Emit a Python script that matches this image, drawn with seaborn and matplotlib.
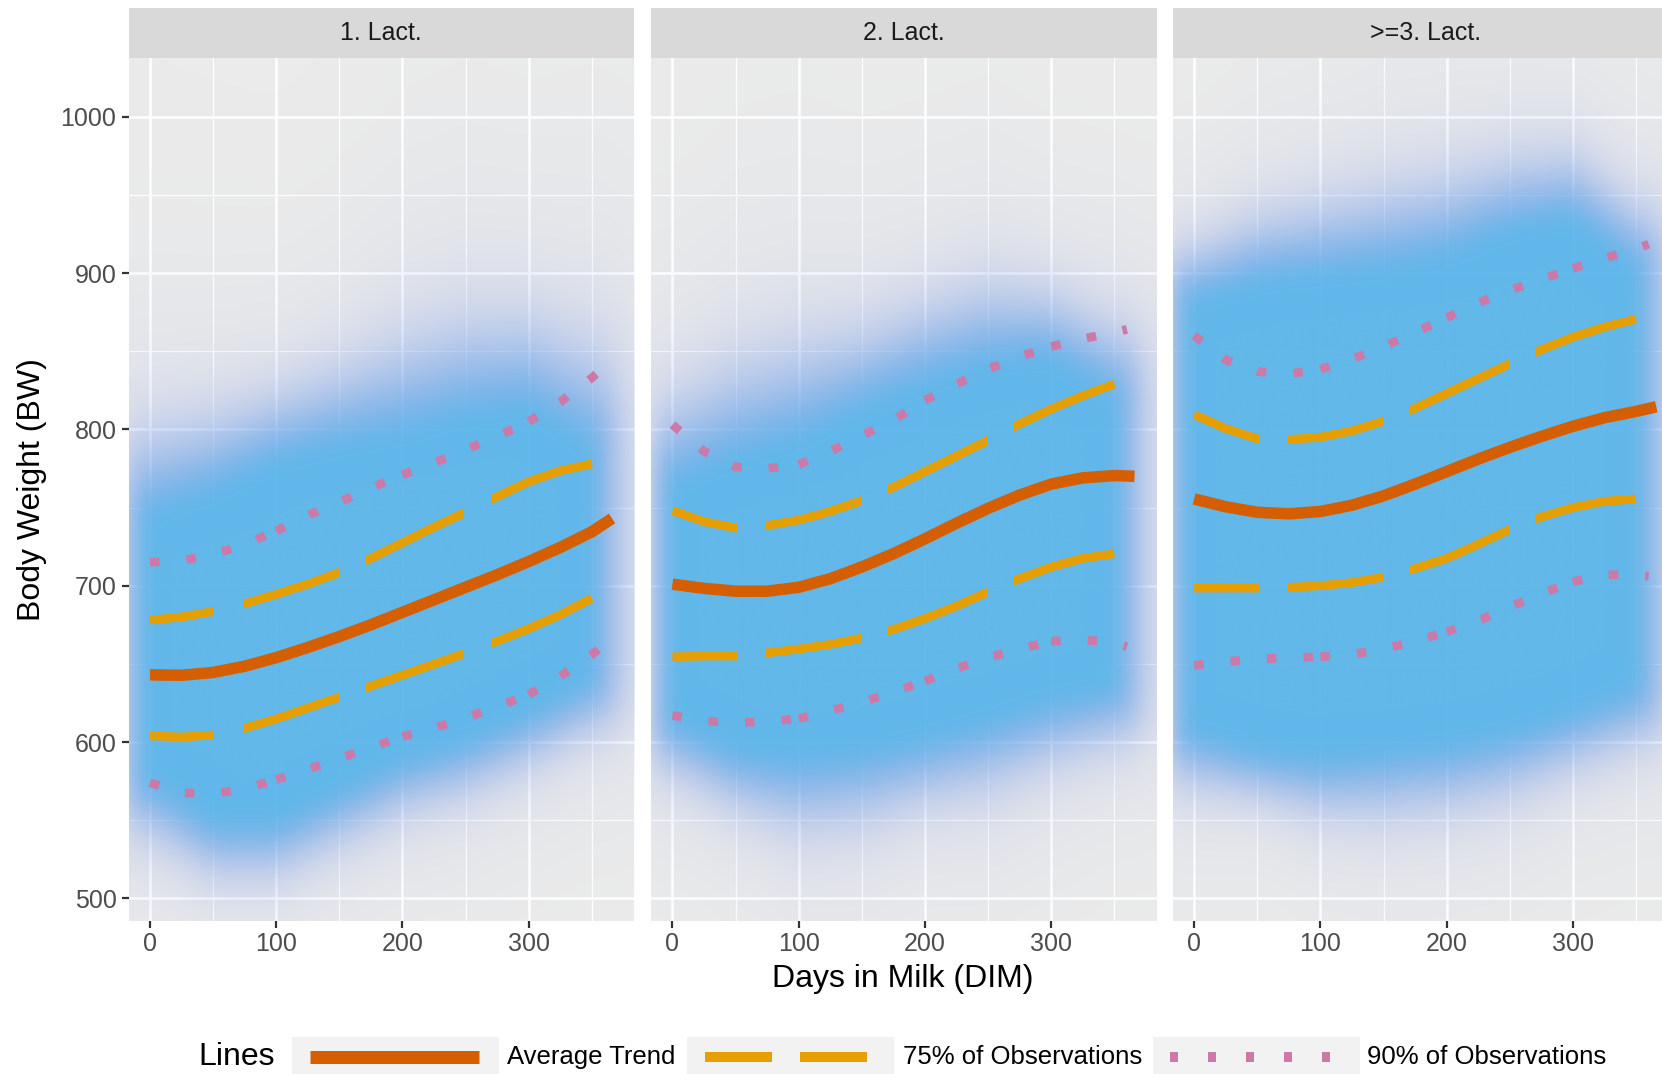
import numpy as np
import pandas as pd
import matplotlib
matplotlib.use("Agg")
import matplotlib.pyplot as plt
import seaborn as sns
from matplotlib.patches import Rectangle
from matplotlib.path import Path
from matplotlib.colors import to_rgb

# ---------------- data ----------------
PANELS = ["1. Lact.", "2. Lact.", ">=3. Lact."]

DIM_AVG = [0, 25, 50, 75, 100, 125, 150, 175, 200, 225, 250, 275, 300, 325, 350, 366]
DIM_Q75 = [0, 25, 50, 75, 100, 125, 150, 175, 200, 225, 250, 275, 300, 325, 350]
DIM_Q90 = [0, 25, 50, 75, 100, 125, 150, 175, 200, 225, 250, 275, 300, 325, 350, 360]

AVG_1 = [643, 642.7, 644.5, 648.5, 654, 660.5, 667.5, 675, 683, 691, 699, 707, 715.5, 724.5, 734.5, 743]
AVG_2 = [701, 698.3, 696.5, 696.5, 699, 704.5, 712, 720.5, 730, 740, 749.5, 758, 765, 769, 770.5, 770]
AVG_3 = [755.5, 750.5, 747, 746, 747.5, 751.5, 757.5, 765, 773, 781, 788.5, 795.5, 802, 807.5, 811.5, 814.5]

Q75_HI_1 = [678, 680, 683.5, 688.5, 694.5, 701, 708.5, 717.5, 727.5, 737.5, 747, 757, 766.5, 773.5, 778]
Q75_LO_1 = [604, 603.2, 604.5, 608.8, 614.8, 621.8, 628.8, 635.8, 642.8, 649.8, 657, 664.5, 672.5, 681.5, 692]
Q75_HI_2 = [748, 741, 737, 738.5, 742, 747.5, 754.5, 763, 773, 783, 793, 803.5, 813, 821.5, 829]
Q75_LO_2 = [654.5, 655, 655, 657, 659.5, 662.5, 666.5, 672, 679, 687, 696, 704.5, 712, 717.5, 720.5]
Q75_HI_3 = [809.5, 800.5, 794, 793.5, 795, 799, 805.3, 813.5, 823, 832.5, 842, 851, 859, 865.5, 870.5]
Q75_LO_3 = [698.5, 698.5, 698.5, 699, 700, 702, 705.5, 711, 717.5, 726.5, 736, 744, 750, 754, 755.5]

Q90_HI_1 = [715, 716, 720, 726.5, 735, 745, 753.5, 762.5, 771, 778.5, 787, 795.5, 805, 817.5, 833, 840]
Q90_LO_1 = [574, 567.5, 567, 570, 576, 582.5, 589.5, 596.5, 603.5, 609, 615.5, 622.5, 630.5, 642, 656, 662]
Q90_HI_2 = [803, 786, 776, 775, 777.5, 786, 796, 806, 818.5, 829, 838.5, 846.5, 853, 858, 862, 864]
Q90_LO_2 = [617, 613.5, 612.5, 613, 615, 620, 625.5, 632, 639, 647, 654, 659.5, 664.5, 665.5, 663.5, 661]
Q90_HI_3 = [860, 844.5, 837, 835.5, 838.5, 845, 853, 862, 871.5, 881, 889, 896, 903, 909.5, 915.5, 918.5]
Q90_LO_3 = [649, 651.5, 653, 654, 654.5, 656, 659.5, 664.5, 670.5, 677.5, 686.5, 695, 702.5, 707, 707, 706]

CLOUD_X = [0, 50, 100, 150, 200, 250, 300, 350]
CORE_HI_1 = [745, 760, 780, 790, 797, 808, 814, 786]
HALO_HI_1 = [803, 812, 826, 842, 860, 873, 874, 856]
CORE_LO_1 = [575, 548, 548, 568, 588, 600, 618, 640]
HALO_LO_1 = [536, 512, 512, 532, 552, 564, 582, 604]
CORE_HI_2 = [765, 781, 793, 813, 830, 842, 846, 821]
HALO_HI_2 = [822, 845, 857, 866, 882, 895, 890, 869]
CORE_LO_2 = [613, 593, 589, 593, 601, 613, 626, 634]
HALO_LO_2 = [577, 555, 541, 545, 559, 566, 583, 596]
CORE_HI_3 = [883, 895, 899, 903, 911, 928, 936, 903]
HALO_HI_3 = [919, 938, 947, 956, 964, 975, 979, 946]
CORE_LO_3 = [605, 593, 589, 593, 597, 605, 618, 634]
HALO_LO_3 = [569, 562, 551, 550, 554, 563, 580, 596]
CLOUD_XEXT_1 = [-9, 350, -21, 378]   # core left, core right, halo left, halo right
CLOUD_XEXT_2 = [-6, 352, -18, 378]
CLOUD_XEXT_3 = [-10, 352, -21, 378]

X_TICKS = [0, 100, 200, 300]
Y_TICKS = [500, 600, 700, 800, 900, 1000]
LEGEND_LABELS = ["Average Trend", "75% of Observations", "90% of Observations"]

# ---------------- style ----------------
sns.set_theme(style="darkgrid")
plt.rcParams["font.family"] = ["Liberation Sans", "DejaVu Sans"]

C_AVG = "#D55E00"
C_Q75 = "#E69F00"
C_Q90 = "#CC79A7"
C_CLOUD = "#56B4E9"
C_EDGE = "#7B9AEA"
BG = "#EBEBEB"

# long-dash layout of the 75% lines (visible dash spans along the DIM axis)
DASH_SPANS = [(0, 51), (74, 150), (171, 249), (270, 351)]
DOT_RESTARTS = [100, 200, 300]

W, H = 1662, 1074
fig = plt.figure(figsize=(W / 100, H / 100), dpi=100)

PX = lambda v: v / 100 * 72  # pixels -> points

ax_top_px, ax_bot_px = 58.3, 920.7
ax_w_px = 505.5
lefts = [128.5, 651.0, 1172.7]
XLIM = (-17.0, 383.4)
YLIM = (485.7, 1037.4)

avg_data = [AVG_1, AVG_2, AVG_3]
q75_data = [(Q75_HI_1, Q75_LO_1), (Q75_HI_2, Q75_LO_2), (Q75_HI_3, Q75_LO_3)]
q90_data = [(Q90_HI_1, Q90_LO_1), (Q90_HI_2, Q90_LO_2), (Q90_HI_3, Q90_LO_3)]
clouds = [
    (CORE_HI_1, HALO_HI_1, CORE_LO_1, HALO_LO_1, CLOUD_XEXT_1),
    (CORE_HI_2, HALO_HI_2, CORE_LO_2, HALO_LO_2, CLOUD_XEXT_2),
    (CORE_HI_3, HALO_HI_3, CORE_LO_3, HALO_LO_3, CLOUD_XEXT_3),
]

LW_AVG = PX(11.5)
LW_Q = PX(8.7)


def gblur(a, s):
    r = int(3 * s)
    k = np.exp(-0.5 * (np.arange(-r, r + 1) / s) ** 2)
    k /= k.sum()
    p = np.pad(a, r, mode="edge")
    p = np.apply_along_axis(lambda v: np.convolve(v, k, mode="valid"), 0, p)
    p = np.apply_along_axis(lambda v: np.convolve(v, k, mode="valid"), 1, p)
    return p


def draw_cloud(ax, core_hi, halo_hi, core_lo, halo_lo, ext):
    xs = np.linspace(-20, 386, 300)
    ys = np.linspace(480, 1042, 420)
    X, Y = np.meshgrid(xs, ys)
    ch = np.interp(xs, CLOUD_X, core_hi)[None, :]
    hh = np.interp(xs, CLOUD_X, halo_hi)[None, :]
    cl = np.interp(xs, CLOUD_X, core_lo)[None, :]
    hl = np.interp(xs, CLOUD_X, halo_lo)[None, :]
    cL, cR, hL, hR = ext
    dv = np.maximum.reduce([(Y - ch) / (hh - ch), (cl - Y) / (cl - hl), np.zeros_like(Y)])
    dh = np.maximum.reduce([(cL - X) / (cL - hL), (X - cR) / (hR - cR), np.zeros_like(X)])
    d = np.sqrt(dv ** 2 + dh ** 2)
    alpha = 0.93 * (0.6 * np.exp(-1.4 * d ** 2) + 0.4 * np.exp(-0.9 * d))
    t = np.clip(d / 1.1, 0, 1) ** 0.6
    alpha = np.clip(gblur(alpha, 6), 0, 1)
    t = np.clip(gblur(t, 6), 0, 1)
    c0 = np.array(to_rgb(C_CLOUD))
    c1 = np.array(to_rgb(C_EDGE))
    rgb = c0[None, None, :] * (1 - t[..., None]) + c1[None, None, :] * t[..., None]
    img = np.dstack([rgb, alpha])
    ax.imshow(img, extent=(xs[0], xs[-1], ys[0], ys[-1]), origin="lower",
              aspect="auto", interpolation="bilinear", zorder=1)


def dash_clip_path():
    verts, codes = [], []
    for a, b in DASH_SPANS:
        verts += [(a, 0), (b, 0), (b, 2000), (a, 2000), (a, 0)]
        codes += [Path.MOVETO, Path.LINETO, Path.LINETO, Path.LINETO, Path.CLOSEPOLY]
    return Path(verts, codes)


def seg_plot(ax, xv, yv, splits, **kw):
    xv = np.asarray(xv); yv = np.asarray(yv)
    bounds = [xv[0]] + splits + [xv[-1]]
    for a, b in zip(bounds[:-1], bounds[1:]):
        m = (xv >= a) & (xv <= b)
        sns.lineplot(x=xv[m], y=yv[m], ax=ax, sort=False, estimator=None, legend=False, **kw)


clip = dash_clip_path()

for i, name in enumerate(PANELS):
    ax = fig.add_axes([lefts[i] / W, (H - ax_bot_px) / H, ax_w_px / W, (ax_bot_px - ax_top_px) / H])
    ax.set_facecolor(BG)
    for s in ax.spines.values():
        s.set_visible(False)
    ax.set_axisbelow(True)

    draw_cloud(ax, *clouds[i])

    # 90% lines (dotted)
    for yv in q90_data[i]:
        seg_plot(ax, DIM_Q90, yv, DOT_RESTARTS, color=C_Q90, linewidth=LW_Q,
                 linestyle=(0, (1.1, 3.1)), dash_capstyle="butt", zorder=3)
    # 75% lines (long dashed)
    for yv in q75_data[i]:
        sns.lineplot(x=DIM_Q75, y=yv, ax=ax, color=C_Q75, linewidth=LW_Q,
                     solid_capstyle="butt", solid_joinstyle="round",
                     sort=False, estimator=None, legend=False, zorder=4)
        ax.lines[-1].set_clip_path(clip, ax.transData)
    # average trend
    sns.lineplot(x=DIM_AVG, y=avg_data[i], ax=ax, color=C_AVG, linewidth=LW_AVG,
                 solid_capstyle="butt", solid_joinstyle="round",
                 sort=False, estimator=None, legend=False, zorder=5)

    ax.set_xlim(*XLIM)
    ax.set_ylim(*YLIM)
    ax.set_xticks(X_TICKS)
    ax.set_xticks([50, 150, 250, 350], minor=True)
    ax.set_yticks(Y_TICKS)
    ax.set_yticks([550, 650, 750, 850, 950], minor=True)
    ax.grid(which="major", color="white", linewidth=PX(2.6), zorder=0.5)
    ax.grid(which="minor", color="white", linewidth=PX(1.3), zorder=0.5)
    ax.tick_params(which="major", length=PX(7), width=PX(2.2), color="#333333",
                   labelsize=18, labelcolor="#4D4D4D", pad=PX(4), bottom=True, left=True)
    ax.tick_params(which="minor", length=0)
    ax.set_xlabel("")
    ax.set_ylabel("")
    if i > 0:
        ax.tick_params(axis="y", which="both", left=False, labelleft=False)
    else:
        ax.tick_params(axis="y", pad=PX(5))

    # facet strip
    strip_h = 50.0 / (ax_bot_px - ax_top_px)
    ax.add_patch(Rectangle((0, 1), 1, strip_h, transform=ax.transAxes, facecolor="#D9D9D9",
                           edgecolor="none", clip_on=False, zorder=2))
    ax.text(0.5, 1 + strip_h / 2, name, transform=ax.transAxes, ha="center", va="center",
            fontsize=18, color="#1A1A1A", clip_on=False)

# axis titles
fig.text(903 / W, 1 - 979 / H, "Days in Milk (DIM)", ha="center", va="center", fontsize=23, color="black")
fig.text(32 / W, 1 - 489.5 / H, "Body Weight (BW)", ha="center", va="center", rotation=90,
         fontsize=23, color="black")

# legend (bottom, horizontal, ggplot style)
lax = fig.add_axes([0, 0, 1, 1], zorder=10)
lax.set_xlim(0, W)
lax.set_ylim(H, 0)
lax.axis("off")
lax.patch.set_alpha(0)
ly = 1057
lax.text(198, ly, "Lines", ha="left", va="center", fontsize=23, color="black")
keys = [(291.5, 507), (687, 903), (1153, 1367)]
for (kx, tx), lab in zip(keys, LEGEND_LABELS):
    lax.add_patch(Rectangle((kx, 1037), 207, 42, facecolor="#F2F2F2", edgecolor="none"))
    lax.text(tx, ly, lab, ha="left", va="center", fontsize=18.5, color="black")
lax.plot([309.5, 479], [ly, ly], color=C_AVG, lw=PX(13), solid_capstyle="butt")
lax.plot([705, 867], [ly, ly], color=C_Q75, lw=PX(10), linestyle=(0, (6.7, 2.8)), dash_capstyle="butt")
lax.plot([1170, 1335], [ly, ly], color=C_Q90, lw=PX(10), linestyle=(0, (0.8, 3.0)), dash_capstyle="butt")

fig.savefig("out.png", dpi=100)
